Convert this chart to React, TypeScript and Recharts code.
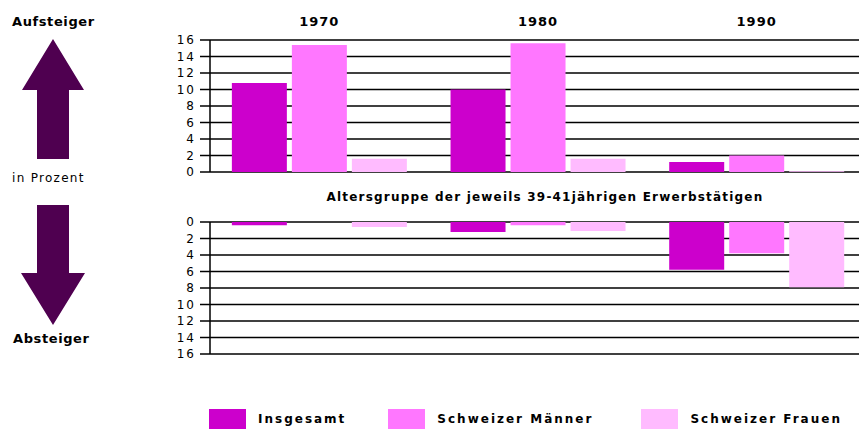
import React from 'react';
import { BarChart, Bar, XAxis, YAxis, CartesianGrid, Legend } from 'recharts';

const years = ['1970', '1980', '1990'];
const seriesNames = ['Insgesamt', 'Schweizer Männer', 'Schweizer Frauen'];
const seriesColors = ['#cc00cc', '#ff77ff', '#ffbbff'];

// Aufsteiger (upward mobility), in percent
const upInsgesamt = [10.8, 10.0, 1.2];
const upMaenner = [15.4, 15.6, 2.0];
const upFrauen = [1.6, 1.6, 0.1];

// Absteiger (downward mobility), in percent
const downInsgesamt = [0.4, 1.2, 5.8];
const downMaenner = [0, 0.4, 3.8];
const downFrauen = [0.6, 1.1, 7.9];

const yTicks = [0, 2, 4, 6, 8, 10, 12, 14, 16];
const subTitle = 'Altersgruppe der jeweils 39-41jährigen Erwerbstätigen';

const keys = ['insgesamt', 'maenner', 'frauen'];

const upData = years.map((year, i) => ({
  year,
  insgesamt: upInsgesamt[i],
  maenner: upMaenner[i],
  frauen: upFrauen[i],
}));

const downData = years.map((year, i) => ({
  year,
  insgesamt: downInsgesamt[i],
  maenner: downMaenner[i],
  frauen: downFrauen[i],
}));

const FONT = '"DejaVu Sans", sans-serif';
const ARROW = '#4f0050';

const tickStyle = { fill: '#000', fontSize: 12, fontFamily: FONT, letterSpacing: 2 };

const LegendContent = () => (
  <div
    style={{
      display: 'flex',
      alignItems: 'center',
      height: 20,
      paddingLeft: 209,
      fontFamily: FONT,
      whiteSpace: 'nowrap',
    }}
  >
    {seriesNames.map((name, i) => (
      <div
        key={name}
        style={{ display: 'flex', alignItems: 'center', flexShrink: 0, marginRight: i === 0 ? 42 : 48 }}
      >
        <div style={{ width: 37, height: 20, background: seriesColors[i], marginRight: 12, flexShrink: 0 }} />
        <span style={{ fontSize: 12, fontWeight: 'bold', letterSpacing: 2, color: '#000' }}>{name}</span>
      </div>
    ))}
  </div>
);

const App: React.FC = () => {
  return (
    <div
      style={{
        position: 'absolute',
        left: 0,
        top: 0,
        width: 859,
        height: 430,
        overflow: 'hidden',
        background: '#fff',
        fontFamily: FONT,
      }}
    >
      {/* side labels and arrows */}
      <div style={{ position: 'absolute', left: 12, top: 14, fontSize: 13, fontWeight: 'bold', letterSpacing: 0.6 }}>Aufsteiger</div>
      <div style={{ position: 'absolute', left: 12, top: 171, fontSize: 12, letterSpacing: 1.3 }}>in Prozent</div>
      <div style={{ position: 'absolute', left: 13, top: 331, fontSize: 13, fontWeight: 'bold', letterSpacing: 0.6 }}>Absteiger</div>
      <svg style={{ position: 'absolute', left: 0, top: 0 }} width={200} height={430}>
        <polygon points="53,39 84,90 69,90 69,159 37,159 37,90 22,90" fill={ARROW} />
        <polygon points="37,205 69,205 69,273 85,273 53,325 21,273 37,273" fill={ARROW} />
      </svg>

      {/* upper chart: Aufsteiger */}
      <div style={{ position: 'absolute', left: 0, top: 0 }}>
        <BarChart
          width={866}
          height={190}
          data={upData}
          margin={{ top: 0, right: 0, left: 0, bottom: 18 }}
          barCategoryGap="10%"
          barGap={5}
        >
          <CartesianGrid vertical={false} stroke="#000" strokeWidth={1.5} />
          <XAxis
            dataKey="year"
            orientation="top"
            height={40}
            axisLine={false}
            tickLine={false}
            tickSize={0}
            tickMargin={14}
            tick={{ fill: '#000', fontSize: 13, fontWeight: 'bold', fontFamily: FONT, letterSpacing: 1 }}
          />
          <YAxis
            width={210}
            domain={[0, 16]}
            ticks={yTicks}
            interval={0}
            tickSize={10}
            tickMargin={4}
            axisLine={{ stroke: '#000', strokeWidth: 1.5 }}
            tickLine={{ stroke: '#000', strokeWidth: 1.5 }}
            tick={tickStyle}
          />
          {keys.map((k, i) => (
            <Bar key={k} dataKey={k} name={seriesNames[i]} fill={seriesColors[i]} isAnimationActive={false} />
          ))}
        </BarChart>
      </div>

      <div
        style={{
          position: 'absolute',
          left: 0,
          width: 1090,
          top: 190,
          textAlign: 'center',
          fontSize: 12,
          fontWeight: 'bold',
          letterSpacing: 1.2,
        }}
      >
        {subTitle}
      </div>

      {/* lower chart: Absteiger */}
      <div style={{ position: 'absolute', left: 0, top: 180 }}>
        <BarChart
          width={866}
          height={250}
          data={downData}
          margin={{ top: 42, right: 0, left: 0, bottom: 56 }}
          barCategoryGap="10%"
          barGap={5}
        >
          <CartesianGrid vertical={false} stroke="#000" strokeWidth={1.5} />
          <XAxis dataKey="year" hide />
          <YAxis
            width={210}
            reversed
            domain={[0, 16]}
            ticks={yTicks}
            interval={0}
            tickSize={10}
            tickMargin={4}
            axisLine={{ stroke: '#000', strokeWidth: 1.5 }}
            tickLine={{ stroke: '#000', strokeWidth: 1.5 }}
            tick={tickStyle}
          />
          {keys.map((k, i) => (
            <Bar key={k} dataKey={k} name={seriesNames[i]} fill={seriesColors[i]} isAnimationActive={false} />
          ))}
          <Legend
            content={<LegendContent />}
            wrapperStyle={{ position: 'absolute', left: 0, top: 229, width: 866, height: 20 }}
          />
        </BarChart>
      </div>
    </div>
  );
};

export default App;
